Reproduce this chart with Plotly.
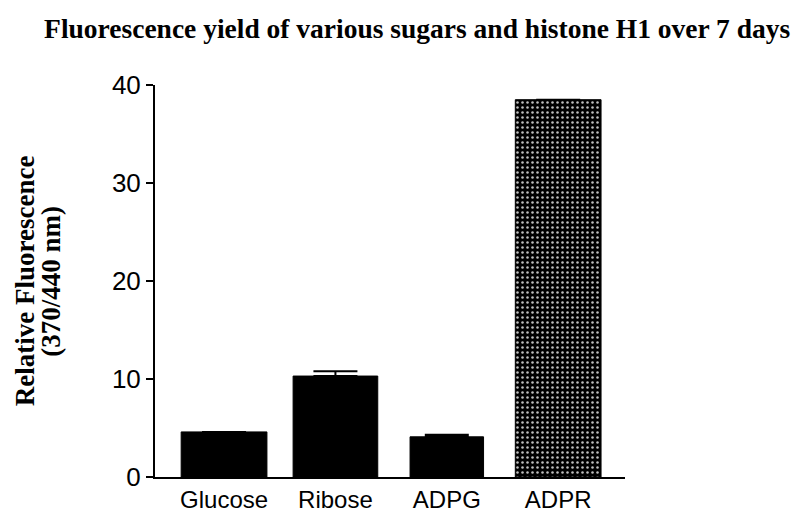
import plotly.graph_objects as go

# data
sugars = ["Glucose", "Ribose", "ADPG", "ADPR"]
fluorescence = [4.6, 10.3, 4.1, 38.5]
error_up = [0.0, 0.5, 0.2, 0.0]
bar_widths = [0.77, 0.76, 0.66, 0.77]
patterns = ["", "", "", "."]

fig = go.Figure()

fig.add_trace(go.Bar(
    x=sugars,
    y=fluorescence,
    width=bar_widths,
    marker=dict(
        color="black",
        line=dict(color="black", width=1),
        pattern=dict(shape=patterns, fgcolor="white", fgopacity=0.75,
                     size=5, solidity=0.2, fillmode="overlay"),
    ),
    error_y=dict(type="data", symmetric=False, array=error_up,
                 arrayminus=[0, 0, 0, 0], color="black", thickness=2, width=22),
    showlegend=False,
))

# page body keeps an 8px margin, so the figure is 8px smaller than the window
fig.update_layout(
    width=796,
    height=507,
    margin=dict(l=147, r=179, t=77, b=38),
    paper_bgcolor="white",
    plot_bgcolor="white",
    title=dict(
        text="Fluorescence yield of various sugars and histone H1 over 7 days",
        x=0.514, xanchor="center", y=0.96, yanchor="middle",
        font=dict(family="Liberation Serif", size=27.5, color="black", weight="bold"),
    ),
    xaxis=dict(
        type="category",
        range=[-0.62, 3.6],
        automargin=False,
        showline=True, linecolor="black", linewidth=2,
        ticks="", showgrid=False, zeroline=False,
        tickfont=dict(family="Liberation Sans", size=24, color="black"),
    ),
    yaxis=dict(
        range=[0, 40],
        tickvals=[0, 10, 20, 30, 40],
        automargin=False,
        showline=True, linecolor="black", linewidth=2,
        ticks="outside", ticklen=7, tickwidth=2, tickcolor="black",
        showgrid=False, zeroline=False,
        tickfont=dict(family="Liberation Sans", size=26, color="black"),
    ),
)

# rotated y-axis title, one annotation per line for tight line spacing
fig.add_annotation(
    text="Relative Fluorescence",
    xref="paper", yref="paper",
    x=-0.276, y=0.5, xanchor="center", yanchor="middle",
    textangle=-90, showarrow=False,
    font=dict(family="Liberation Serif", size=27, color="black", weight="bold"),
)
fig.add_annotation(
    text="(370/440 nm)",
    xref="paper", yref="paper",
    x=-0.222, y=0.5, xanchor="center", yanchor="middle",
    textangle=-90, showarrow=False,
    font=dict(family="Liberation Serif", size=27, color="black", weight="bold"),
)

fig.write_html("out.html")
